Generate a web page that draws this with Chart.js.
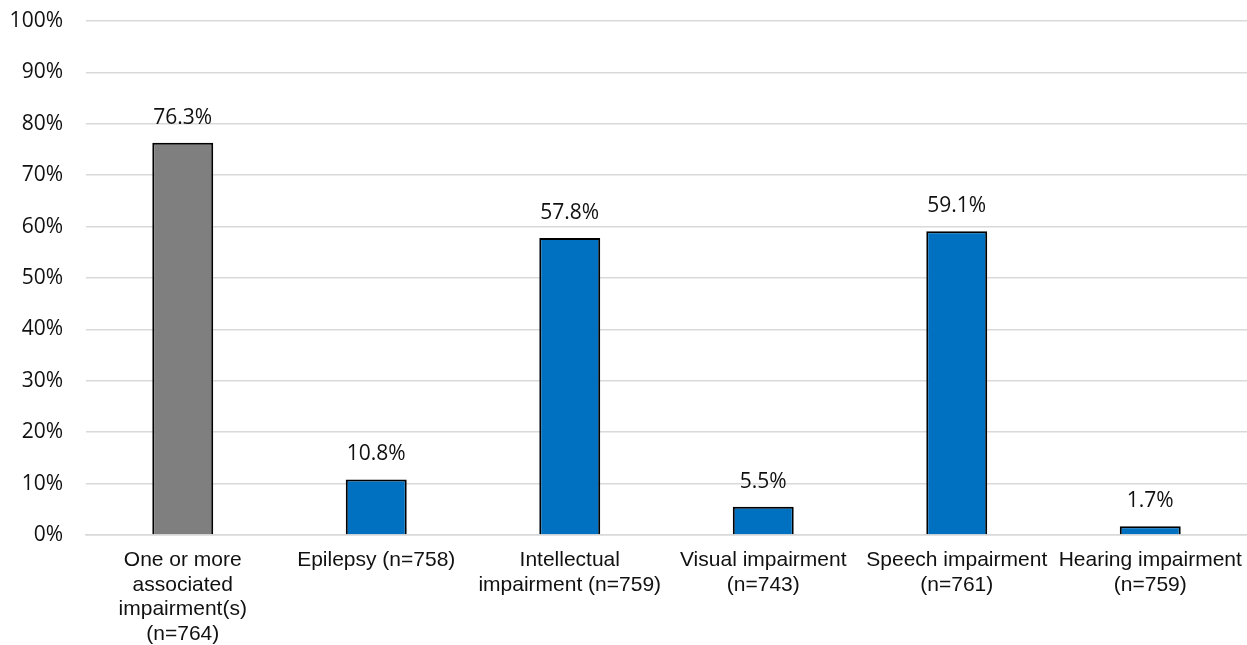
<!DOCTYPE html>
<html>
<head>
<meta charset="utf-8">
<script src="https://cdn.jsdelivr.net/npm/chart.js@4/dist/chart.umd.min.js"></script>
<style>
  html, body { margin: 0; padding: 0; background: #fff; }
  #wrap { width: 1247px; height: 645px; position: relative; }
</style>
</head>
<body>
<div id="wrap"><canvas id="c"></canvas></div>
<script>
// Categories (multi-line axis labels) and prevalence values in percent
const categories = [
  ["One or more", "associated", "impairment(s)", "(n=764)"],
  ["Epilepsy (n=758)"],
  ["Intellectual", "impairment (n=759)"],
  ["Visual impairment", "(n=743)"],
  ["Speech impairment", "(n=761)"],
  ["Hearing impairment", "(n=759)"]
];
const prevalence = [76.3, 10.8, 57.8, 5.5, 59.1, 1.7];
const barColors = ["#7f7f7f", "#0070c0", "#0070c0", "#0070c0", "#0070c0", "#0070c0"];
const yTicks = [0, 10, 20, 30, 40, 50, 60, 70, 80, 90, 100];

// Writes each bar's value above it
const valueLabels = {
  id: "valueLabels",
  afterDatasetsDraw(chart) {
    const ctx = chart.ctx;
    const meta = chart.getDatasetMeta(0);
    ctx.save();
    ctx.font = '21px "Open Sans"';
    ctx.fillStyle = "#111";
    ctx.textAlign = "center";
    ctx.textBaseline = "middle";
    meta.data.forEach((bar, i) => {
      ctx.fillText(prevalence[i].toFixed(1) + "%", bar.x, bar.y - 25);
    });
    ctx.restore();
  }
};

new Chart(document.getElementById("c"), {
  type: "bar",
  data: {
    labels: categories,
    datasets: [{
      data: prevalence,
      backgroundColor: barColors,
      borderColor: "#000",
      borderWidth: 2,
      borderSkipped: "bottom",
      categoryPercentage: 1,
      barPercentage: 0.315
    }]
  },
  options: {
    responsive: true,
    maintainAspectRatio: false,
    animation: false,
    layout: { padding: { top: 21, right: 0, left: 0, bottom: 0 } },
    plugins: { legend: { display: false }, tooltip: { enabled: false } },
    scales: {
      x: {
        grid: { display: false, drawTicks: false },
        border: { display: true, color: "#d9d9d9", width: 1.5 },
        ticks: {
          color: "#111",
          font: { family: '"Liberation Sans", Arial', size: 21, lineHeight: 1.17 },
          padding: 13,
          maxRotation: 0,
          minRotation: 0,
          autoSkip: false
        },
        afterFit(scale) {
          scale.height = 110;
          scale.paddingLeft = 0;
          scale.paddingRight = 0;
        }
      },
      y: {
        min: 0,
        max: 100,
        afterBuildTicks(scale) { scale.ticks = yTicks.map(v => ({ value: v })); },
        grid: { color: "#d9d9d9", lineWidth: 1.5, drawTicks: false },
        border: { display: false },
        ticks: {
          color: "#111",
          font: { family: '"Open Sans"', size: 21 },
          padding: 23,
          callback: v => v + "%"
        },
        afterFit(scale) {
          scale.width = 86;
          scale.paddingTop = 0;
          scale.paddingBottom = 0;
        }
      }
    }
  },
  plugins: [valueLabels]
});
</script>
</body>
</html>
